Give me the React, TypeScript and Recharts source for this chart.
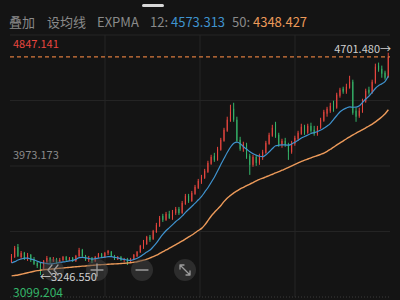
import { Bar, CartesianGrid, ComposedChart, Line, ReferenceLine, XAxis, YAxis } from "recharts";

// 日K：开/收/高/低，自左向右
const opens = [
  3333, 3366, 3433, 3366, 3393, 3353, 3380, 3353, 3326, 3313,
  3286, 3333, 3360, 3340, 3353, 3333, 3346, 3366, 3346, 3360,
  3340, 3373, 3413, 3373, 3346, 3360, 3340, 3366, 3386, 3366,
  3393, 3400, 3373, 3353, 3366, 3346, 3353, 3333, 3353, 3373,
  3400, 3427, 3453, 3500, 3487, 3533, 3573, 3640, 3614, 3654,
  3627, 3660, 3687, 3660, 3720, 3774, 3740, 3787, 3827, 3867,
  3894, 3934, 3988, 4041, 4014, 4081, 4141, 4208, 4275, 4355,
  4282, 4148, 4088, 4115, 4041, 3981, 4034, 3994, 4028, 4061,
  4121, 4175, 4255, 4181, 4115, 4141, 4115, 4068, 4121, 4155,
  4188, 4235, 4195, 4241, 4215, 4188, 4228, 4275, 4322, 4342,
  4395, 4362, 4442, 4489, 4469, 4495, 4535, 4342, 4308, 4335,
  4402, 4482, 4462, 4529, 4643, 4622, 4596, 4569,
];
const closes = [
  3373, 3427, 3373, 3393, 3353, 3380, 3346, 3320, 3306, 3280,
  3340, 3360, 3340, 3353, 3333, 3346, 3366, 3346, 3360, 3340,
  3373, 3413, 3373, 3346, 3360, 3340, 3366, 3386, 3366, 3393,
  3406, 3373, 3353, 3366, 3346, 3353, 3326, 3353, 3380, 3400,
  3440, 3467, 3500, 3480, 3540, 3580, 3627, 3614, 3654, 3627,
  3667, 3687, 3660, 3727, 3774, 3740, 3794, 3834, 3874, 3900,
  3941, 3994, 4034, 4014, 4088, 4148, 4215, 4282, 4335, 4282,
  4141, 4088, 4121, 4034, 3981, 4034, 3994, 4034, 4068, 4128,
  4181, 4228, 4175, 4115, 4141, 4115, 4068, 4128, 4161, 4195,
  4235, 4195, 4241, 4208, 4188, 4228, 4282, 4335, 4355, 4375,
  4355, 4449, 4482, 4469, 4502, 4535, 4328, 4302, 4342, 4409,
  4475, 4462, 4535, 4636, 4616, 4589, 4562, 4701.48,
];
const highs = [
  3386, 3440, 3453, 3406, 3400, 3393, 3386, 3366, 3340, 3326,
  3346, 3373, 3366, 3366, 3360, 3360, 3373, 3373, 3366, 3366,
  3380, 3427, 3420, 3380, 3373, 3366, 3373, 3393, 3393, 3400,
  3413, 3406, 3380, 3373, 3373, 3360, 3360, 3360, 3386, 3406,
  3447, 3480, 3507, 3513, 3547, 3594, 3640, 3654, 3667, 3674,
  3680, 3700, 3700, 3740, 3787, 3787, 3807, 3847, 3887, 3914,
  3954, 4008, 4048, 4061, 4101, 4161, 4228, 4302, 4382, 4395,
  4302, 4168, 4135, 4128, 4055, 4048, 4048, 4055, 4081, 4141,
  4195, 4248, 4268, 4195, 4155, 4161, 4128, 4141, 4175, 4208,
  4255, 4248, 4255, 4262, 4241, 4241, 4295, 4348, 4368, 4395,
  4409, 4462, 4495, 4502, 4522, 4575, 4549, 4362, 4362, 4422,
  4489, 4502, 4549, 4656, 4663, 4643, 4609, 4729,
];
const lows = [
  3326, 3360, 3366, 3353, 3346, 3340, 3333, 3313, 3293, 3246.55,
  3280, 3326, 3326, 3333, 3320, 3326, 3340, 3340, 3340, 3333,
  3333, 3366, 3366, 3340, 3333, 3326, 3333, 3360, 3360, 3360,
  3380, 3366, 3346, 3346, 3340, 3333, 3313, 3326, 3346, 3366,
  3393, 3420, 3447, 3467, 3480, 3527, 3567, 3600, 3607, 3620,
  3614, 3647, 3647, 3654, 3714, 3727, 3734, 3781, 3820, 3854,
  3887, 3927, 3981, 4001, 4008, 4075, 4135, 4201, 4268, 4268,
  4135, 4075, 4068, 4021, 3914, 3968, 3974, 3981, 4014, 4055,
  4115, 4168, 4161, 4101, 4095, 4101, 4014, 4055, 4108, 4141,
  4181, 4181, 4188, 4195, 4175, 4175, 4221, 4268, 4302, 4328,
  4335, 4355, 4429, 4455, 4455, 4489, 4315, 4268, 4295, 4328,
  4395, 4449, 4455, 4522, 4602, 4562, 4549, 4562,
];
// EXPMA 两条线
const expma12 = [
  3326, 3335, 3346, 3353, 3358, 3358, 3352, 3346, 3338, 3330,
  3326, 3322, 3320, 3322, 3326, 3330, 3333, 3336, 3340, 3343,
  3350, 3362, 3364, 3360, 3356, 3352, 3355, 3359, 3362, 3365,
  3368, 3368, 3364, 3360, 3354, 3350, 3345, 3343, 3350, 3358,
  3370, 3385, 3400, 3413, 3435, 3460, 3490, 3518, 3543, 3562,
  3582, 3603, 3620, 3640, 3664, 3685, 3705, 3725, 3748, 3770,
  3800, 3830, 3865, 3900, 3941, 3985, 4025, 4065, 4100, 4125,
  4132, 4122, 4102, 4085, 4068, 4055, 4045, 4038, 4035, 4048,
  4068, 4090, 4108, 4112, 4114, 4114, 4112, 4120, 4132, 4145,
  4160, 4170, 4180, 4190, 4196, 4203, 4213, 4226, 4240, 4258,
  4285, 4310, 4335, 4350, 4360, 4368, 4365, 4366, 4375, 4398,
  4420, 4440, 4465, 4492, 4510, 4522, 4538, 4573.313,
];
const expma50 = [
  3240, 3243, 3246, 3251, 3256, 3261, 3266, 3271, 3275, 3278,
  3281, 3283, 3285, 3287, 3289, 3291, 3293, 3295, 3297, 3299,
  3301, 3303, 3305, 3306, 3308, 3310, 3312, 3314, 3315, 3316,
  3318, 3319, 3320, 3321, 3323, 3324, 3326, 3328, 3331, 3334,
  3340, 3345, 3352, 3360, 3368, 3378, 3390, 3402, 3413, 3425,
  3437, 3449, 3461, 3473, 3487, 3500, 3513, 3528, 3543, 3557,
  3580, 3610, 3640, 3664, 3687, 3710, 3737, 3760, 3777, 3794,
  3807, 3821, 3831, 3842, 3853, 3863, 3874, 3884, 3892, 3901,
  3909, 3918, 3927, 3935, 3945, 3954, 3964, 3974, 3984, 3994,
  4004, 4012, 4020, 4028, 4036, 4043, 4051, 4059, 4071, 4085,
  4099, 4114, 4128, 4141, 4155, 4168, 4181, 4193, 4204, 4216,
  4228, 4240, 4253, 4268, 4284, 4302, 4322, 4348.427,
];
// 纵轴：上、中、下三个刻度
const axisTicks = [4847.141, 3973.173, 3099.204];
const headerItems = ["叠加", "设均线", "EXPMA"];

const RED = "#e8463f";
const GREEN = "#35b56a";
const BLUE = "#3f93cf";
const ORANGE = "#ec9a5a";
const GRID = "#242424";

const dados = opens.map((open, i) => ({
  i,
  open,
  close: closes[i],
  high: highs[i],
  low: lows[i],
  range: [lows[i], highs[i]],
  e12: expma12[i],
  e50: expma50[i],
}));

const lastClose = closes[closes.length - 1];
const minLow = Math.min(...lows);

// range bar [low, high] -> wick + body
function Vela(props: any) {
  const { x, y, width, height, payload } = props;
  if (!payload) return null;
  const { open, close, high, low } = payload;
  const top = Math.min(y, y + height);
  const h = Math.abs(height);
  const toY = (p: number) => top + ((high - p) / (high - low || 1)) * h;
  const cor = close >= open ? RED : GREEN;
  const cx = x + width / 2;
  const b1 = toY(Math.max(open, close));
  const b2 = toY(Math.min(open, close));
  return (
    <g>
      <line x1={cx} x2={cx} y1={top} y2={top + h} stroke={cor} strokeWidth={1} />
      <rect x={x} y={b1} width={width} height={Math.max(1, b2 - b1)} fill={cor} />
    </g>
  );
}

const txt = (extra: React.CSSProperties): React.CSSProperties => ({
  position: "absolute",
  whiteSpace: "nowrap",
  lineHeight: 1,
  ...extra,
});

function Botao({ cx, cy, children }: { cx: number; cy: number; children: React.ReactNode }) {
  return (
    <g transform={`translate(${cx},${cy})`}>
      <circle r={11} fill="rgba(70,70,70,0.5)" />
      <g stroke="#9c9c9c" strokeWidth={1.3} fill="none" strokeLinecap="round">
        {children}
      </g>
    </g>
  );
}

export default function App() {
  return (
    <div
      style={{
        position: "absolute",
        left: 0,
        top: 0,
        width: 400,
        height: 300,
        background: "#141414",
        overflow: "hidden",
        fontFamily: "'Noto Sans CJK SC', Roboto, sans-serif",
      }}
    >
      <div style={{ position: "absolute", left: 142, top: 4, width: 22, height: 3, borderRadius: 2, background: "#d8d8d8" }} />
      <div style={txt({ left: 9, top: 15, fontSize: 13, color: "#8a8a8a" })}>{headerItems[0]}</div>
      <div style={txt({ left: 47, top: 15, fontSize: 13, color: "#8a8a8a" })}>{headerItems[1]}</div>
      <div style={txt({ left: 97, top: 15, fontSize: 13, color: "#8a8a8a" })}>{headerItems[2]}</div>
      <div style={txt({ left: 150, top: 15, fontSize: 13, color: "#8a8a8a" })}>
        12: <span style={{ color: BLUE }}>{expma12[expma12.length - 1].toFixed(3)}</span>
      </div>
      <div style={txt({ left: 232, top: 15, fontSize: 13, color: "#8a8a8a" })}>
        50: <span style={{ color: ORANGE }}>{expma50[expma50.length - 1].toFixed(3)}</span>
      </div>

      <ComposedChart
        width={400}
        height={300}
        data={dados}
        margin={{ top: 35, right: 10, bottom: 3, left: 10 }}
        barCategoryGap="30%"
        style={{ position: "absolute", left: 0, top: 0 }}
      >
        <CartesianGrid
          stroke={GRID}
          verticalCoordinatesGenerator={({ offset }: any) =>
            [1, 2, 3].map((k) => offset.left + (offset.width * k) / 4)
          }
          horizontalCoordinatesGenerator={({ offset }: any) =>
            [0, 1, 2, 3].map((k) => offset.top + (offset.height * k) / 4)
          }
        />
        <XAxis dataKey="i" hide />
        <YAxis hide domain={[axisTicks[2], axisTicks[0]]} allowDataOverflow />
        <ReferenceLine y={axisTicks[2]} stroke="#3a3a3a" strokeDasharray="1 2" />
        <ReferenceLine y={lastClose} stroke="#d7793c" strokeWidth={1.3} strokeDasharray="4 3" />
        <Line type="monotone" dataKey="e50" stroke={ORANGE} strokeWidth={1.4} dot={false} isAnimationActive={false} />
        <Line type="monotone" dataKey="e12" stroke={BLUE} strokeWidth={1.2} dot={false} isAnimationActive={false} />
        <Bar dataKey="range" shape={Vela} isAnimationActive={false} />
      </ComposedChart>

      <svg width={400} height={300} style={{ position: "absolute", left: 0, top: 0 }}>
        <Botao cx={53} cy={270}>
          <path d="M-1 -5 L-5 0 L-1 5 M5 -5 L1 0 L5 5" />
        </Botao>
        <Botao cx={97} cy={270}>
          <path d="M-6 0 L6 0 M0 -6 L0 6" />
        </Botao>
        <Botao cx={142} cy={270}>
          <path d="M-6 0 L6 0" />
        </Botao>
        <Botao cx={185} cy={270}>
          <path d="M-5 -5 L5 5 M-5 -5 L-5 -1 M-5 -5 L-1 -5 M5 5 L5 1 M5 5 L1 5" />
        </Botao>
      </svg>

      <div style={txt({ left: 13, top: 38, fontSize: 11, color: RED })}>{axisTicks[0].toFixed(3)}</div>
      <div style={txt({ left: 13, top: 149, fontSize: 11, color: "#8a8a8a" })}>{axisTicks[1].toFixed(3)}</div>
      <div style={txt({ left: 13, top: 286, fontSize: 12, color: GREEN })}>{axisTicks[2].toFixed(3)}</div>
      <div style={txt({ right: 9, top: 43, fontSize: 11, color: "#cfcfcf" })}>{lastClose.toFixed(3)}→</div>
      <div style={txt({ left: 40, top: 271, fontSize: 11, color: "#d0d0d0" })}>←{minLow.toFixed(3)}</div>
    </div>
  );
}
